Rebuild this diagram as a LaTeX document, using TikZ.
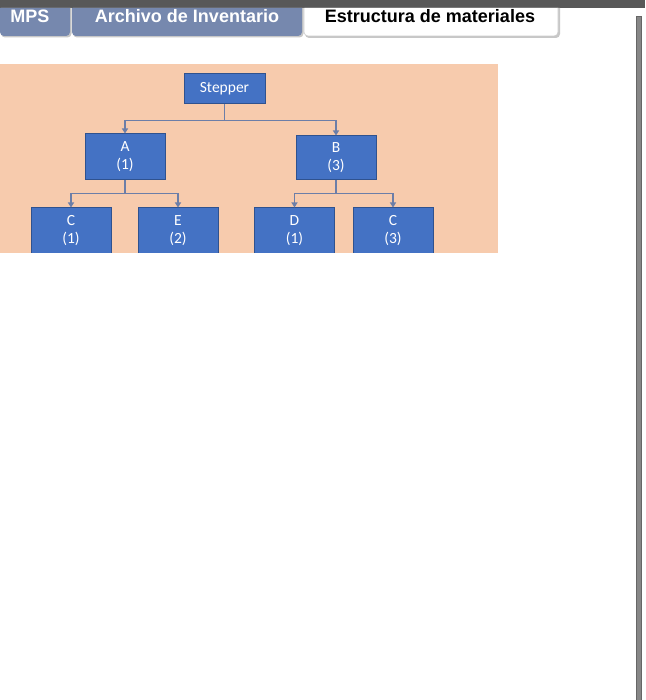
\documentclass[tikz,border=0pt]{standalone}
\usepackage{fontspec}
\setmainfont{Liberation Sans}
\newfontfamily\carlito{Carlito}
\usetikzlibrary{arrows.meta,calc}
\definecolor{topbar}{RGB}{88,88,88}
\definecolor{tabblue}{RGB}{118,136,174}
\definecolor{peach}{RGB}{247,203,173}
\definecolor{boxfill}{RGB}{68,114,196}
\definecolor{boxedge}{RGB}{47,82,143}
\definecolor{linkcol}{RGB}{108,126,168}
\definecolor{scrollgray}{RGB}{135,135,135}
\tikzset{
  tabtext/.style={font=\fontsize{18}{20}\selectfont\bfseries, anchor=center, inner sep=0pt},
  bomnode/.style={draw=boxedge, fill=boxfill, line width=1pt, minimum width=80pt, minimum height=46pt,
    inner sep=0pt, align=center, text=white, font=\carlito\fontsize{15.5}{18}\selectfont},
  link/.style={draw=linkcol, line width=1.2pt},
  linkarrow/.style={link, -{Triangle[width=6pt,length=5pt]}},
  tabshadow/.style={fill=black!22, rounded corners=4pt}
}
\begin{document}
\begin{tikzpicture}[x=1pt,y=-1pt]
\useasboundingbox (0,0) rectangle (645,700);
\fill[white] (0,0) rectangle (645,700);
% top bar
\fill[topbar] (0,0) rectangle (645,8);
% tab shadows
\fill[tabshadow] (1,8) -- (1,37.5) -- (71.5,37.5) -- (71.5,8);
\fill[tabshadow] (73,8) -- (73,37.5) -- (303.5,37.5) -- (303.5,8);
\fill[tabshadow] (305,8) -- (305,38) -- (560,38) -- (560,8);
% tabs
\fill[tabblue, rounded corners=4pt] (0,8) -- (0,36) -- (70,36) -- (70,8);
\fill[tabblue, rounded corners=4pt] (72,8) -- (72,36) -- (302,36) -- (302,8);
\filldraw[fill=white, draw=black!20, line width=0.6pt, rounded corners=4pt] (304,8) -- (304,36) -- (558,36) -- (558,8);
\node[tabtext, text=white] (tabmps) at (30,16) {MPS};
\node[tabtext, text=white] (tabinv) at (187,16) {Archivo de Inventario};
\node[tabtext, text=black] (tabbom) at (430,16) {Estructura de materiales};
% scrollbar
\filldraw[fill=scrollgray, draw=black!60, line width=0.6pt] (636,16) rectangle (641,700);
% diagram
\begin{scope}
\clip (0,64) rectangle (498,253);
\fill[peach] (0,64) rectangle (498,253);
\node[bomnode, minimum width=81pt, minimum height=30pt] (stepper) at (224.5,89) {Stepper};
\node[bomnode] (a) at (125,157) {A\\(1)};
\node[bomnode, minimum height=44pt] (b) at (336,158) {B\\(3)};
\node[bomnode] (c1) at (71,231) {C\\(1)};
\node[bomnode] (e) at (178,231) {E\\(2)};
\node[bomnode] (d) at (294.5,231) {D\\(1)};
\node[bomnode] (c3) at (393,231) {C\\(3)};
\coordinate (sj) at ($(stepper.south)+(0,16)$);
\draw[linkarrow] (stepper.south) -- (sj) -| (a.north);
\draw[linkarrow] (sj) -| (b.north);
\coordinate (aj) at ($(a.south)+(0,13)$);
\draw[linkarrow] (a.south) -- (aj) -| (c1.north);
\draw[linkarrow] (aj) -| (e.north);
\coordinate (bj) at ($(b.south)+(0,13)$);
\draw[linkarrow] (b.south) -- (bj) -| (d.north);
\draw[linkarrow] (bj) -| (c3.north);
\end{scope}
\end{tikzpicture}
\end{document}
